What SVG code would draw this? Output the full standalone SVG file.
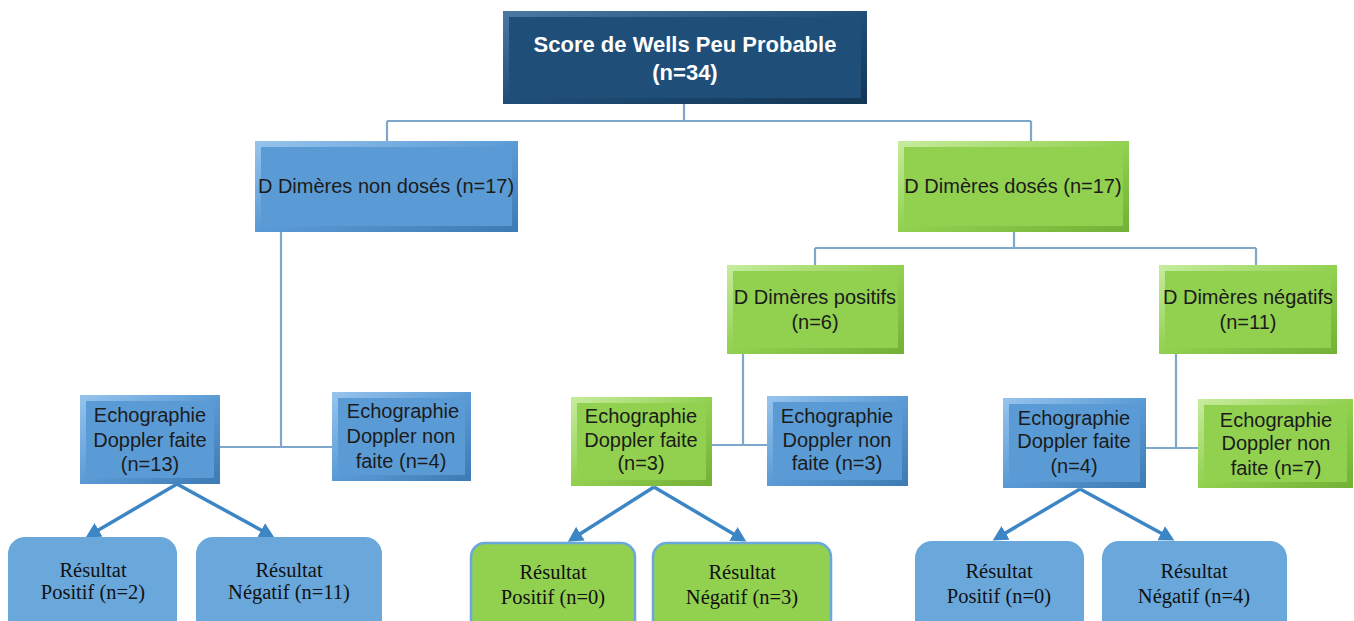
<svg xmlns="http://www.w3.org/2000/svg" width="1354" height="621" viewBox="0 0 1354 621">
<defs>
<style>
.sans{font-family:"Liberation Sans",Arial,sans-serif;font-size:20px;fill:#1b1b1b;text-anchor:middle}
.title{font-family:"Liberation Sans",Arial,sans-serif;font-size:22px;font-weight:bold;fill:#ffffff;text-anchor:middle}
.serif{font-family:"Liberation Serif","Times New Roman",serif;font-size:20.5px;fill:#111;text-anchor:middle}
.navy{fill:#1f4e79}
.blue{fill:#5b9bd5}
.green{fill:#92d050}
.bvN{fill:none;stroke:url(#gN);stroke-width:6}
.bvB{fill:none;stroke:url(#gB);stroke-width:6}
.bvG{fill:none;stroke:url(#gG);stroke-width:6}
.resB{fill:#6aa8dc;stroke:#6aa8dc;stroke-width:2}
.resG{fill:#92d050;stroke:#6aa8dc;stroke-width:2.5}
.conn{fill:none;stroke:#7fa6cb;stroke-width:2.2}
.arr{fill:none;stroke:#3d86c6;stroke-width:3.5;marker-end:url(#ah)}
</style>
<linearGradient id="gN" x1="0" y1="0" x2="1" y2="1"><stop offset="0" stop-color="#4a78a3"/><stop offset="0.5" stop-color="#1f4e79"/><stop offset="1" stop-color="#143756"/></linearGradient>
<linearGradient id="gB" x1="0" y1="0" x2="1" y2="1"><stop offset="0" stop-color="#94c2ec"/><stop offset="0.5" stop-color="#5b9bd5"/><stop offset="1" stop-color="#3f7cb5"/></linearGradient>
<linearGradient id="gG" x1="0" y1="0" x2="1" y2="1"><stop offset="0" stop-color="#c4eb9a"/><stop offset="0.5" stop-color="#92d050"/><stop offset="1" stop-color="#74b238"/></linearGradient>
<marker id="ah" markerUnits="userSpaceOnUse" markerWidth="16" markerHeight="16" refX="10" refY="8" orient="auto" viewBox="0 0 16 16">
<path d="M0,0 L15,8 L0,16 z" fill="#3d86c6"/>
</marker>
</defs>
<rect width="1354" height="621" fill="#ffffff"/>

<g id="connectors">
<path class="conn" d="M684,104 V121 M387,121 H1031 M387,121 V141 M1031,121 V141"/>
<path class="conn" d="M281,232 V447 M220,447 H333"/>
<path class="conn" d="M1014,232 V248 M815,248 H1256 M815,248 V265 M1256,248 V265"/>
<path class="conn" d="M743,354 V445 M712,445 H768"/>
<path class="conn" d="M1176,354 V448 M1145,448 H1198"/>
<line class="arr" x1="177" y1="484" x2="90" y2="535"/>
<line class="arr" x1="177" y1="484" x2="270" y2="535"/>
<line class="arr" x1="654" y1="487" x2="572" y2="539"/>
<line class="arr" x1="654" y1="487" x2="742" y2="539"/>
<line class="arr" x1="1080" y1="489" x2="997" y2="538"/>
<line class="arr" x1="1080" y1="489" x2="1170" y2="538"/>
</g>

<g id="root">
<rect class="navy" x="503" y="11" width="364" height="93"/>
<rect class="bvN" x="506" y="14" width="358" height="87"/>
<text class="title" x="685" y="52">Score de Wells Peu Probable</text>
<text class="title" x="685" y="80">(n=34)</text>
</g>

<g id="dd-non-doses">
<rect class="blue" x="255" y="141" width="263" height="91"/>
<rect class="bvB" x="258" y="144" width="257" height="85"/>
<text class="sans" x="386" y="193">D Dimères non dosés (n=17)</text>
</g>

<g id="dd-doses">
<rect class="green" x="898" y="141" width="231" height="91"/>
<rect class="bvG" x="901" y="144" width="225" height="85"/>
<text class="sans" x="1013" y="193">D Dimères dosés (n=17)</text>
</g>

<g id="dd-positifs">
<rect class="green" x="727" y="265" width="177" height="89"/>
<rect class="bvG" x="730" y="268" width="171" height="83"/>
<text class="sans" x="815" y="304">D Dimères positifs</text>
<text class="sans" x="815" y="329">(n=6)</text>
</g>

<g id="dd-negatifs">
<rect class="green" x="1159" y="265" width="178" height="89"/>
<rect class="bvG" x="1162" y="268" width="172" height="83"/>
<text class="sans" x="1248" y="304">D Dimères négatifs</text>
<text class="sans" x="1248" y="329">(n=11)</text>
</g>

<g id="echo-faite-13">
<rect class="blue" x="80" y="395" width="140" height="89"/>
<rect class="bvB" x="83" y="398" width="134" height="83"/>
<text class="sans" x="150" y="422">Echographie</text>
<text class="sans" x="150" y="447">Doppler faite</text>
<text class="sans" x="150" y="471">(n=13)</text>
</g>

<g id="echo-nonfaite-4">
<rect class="blue" x="332" y="392" width="139" height="89"/>
<rect class="bvB" x="335" y="395" width="133" height="83"/>
<text class="sans" x="403" y="418">Echographie</text>
<text class="sans" x="401" y="443">Doppler non</text>
<text class="sans" x="401" y="468">faite (n=4)</text>
</g>

<g id="echo-faite-3">
<rect class="green" x="571" y="397" width="141" height="89"/>
<rect class="bvG" x="574" y="400" width="135" height="83"/>
<text class="sans" x="641" y="423">Echographie</text>
<text class="sans" x="641" y="447">Doppler faite</text>
<text class="sans" x="641" y="470">(n=3)</text>
</g>

<g id="echo-nonfaite-3">
<rect class="blue" x="767" y="396" width="141" height="90"/>
<rect class="bvB" x="770" y="399" width="135" height="84"/>
<text class="sans" x="837" y="423">Echographie</text>
<text class="sans" x="837" y="447">Doppler non</text>
<text class="sans" x="837" y="470">faite (n=3)</text>
</g>

<g id="echo-faite-4">
<rect class="blue" x="1003" y="398" width="143" height="90"/>
<rect class="bvB" x="1006" y="401" width="137" height="84"/>
<text class="sans" x="1074" y="425">Echographie</text>
<text class="sans" x="1074" y="448">Doppler faite</text>
<text class="sans" x="1074" y="473">(n=4)</text>
</g>

<g id="echo-nonfaite-7">
<rect class="green" x="1198" y="399" width="155" height="89"/>
<rect class="bvG" x="1201" y="402" width="149" height="83"/>
<text class="sans" x="1276" y="427">Echographie</text>
<text class="sans" x="1276" y="450">Doppler non</text>
<text class="sans" x="1276" y="475">faite (n=7)</text>
</g>

<g id="res-pos-2">
<rect class="resB" x="9" y="538" width="167" height="100" rx="16"/>
<text class="serif" x="93" y="577">Résultat</text>
<text class="serif" x="93" y="599">Positif (n=2)</text>
</g>

<g id="res-neg-11">
<rect class="resB" x="197" y="538" width="184" height="100" rx="16"/>
<text class="serif" x="289" y="577">Résultat</text>
<text class="serif" x="289" y="599">Négatif (n=11)</text>
</g>

<g id="res-pos-0a">
<rect class="resG" x="471" y="543" width="164" height="100" rx="14"/>
<text class="serif" x="553" y="579">Résultat</text>
<text class="serif" x="553" y="604">Positif (n=0)</text>
</g>

<g id="res-neg-3">
<rect class="resG" x="653" y="543" width="178" height="100" rx="14"/>
<text class="serif" x="742" y="579">Résultat</text>
<text class="serif" x="742" y="604">Négatif (n=3)</text>
</g>

<g id="res-pos-0b">
<rect class="resB" x="916" y="542" width="167" height="100" rx="16"/>
<text class="serif" x="999" y="578">Résultat</text>
<text class="serif" x="999" y="603">Positif (n=0)</text>
</g>

<g id="res-neg-4">
<rect class="resB" x="1103" y="542" width="183" height="100" rx="16"/>
<text class="serif" x="1194" y="578">Résultat</text>
<text class="serif" x="1194" y="603">Négatif (n=4)</text>
</g>
</svg>
